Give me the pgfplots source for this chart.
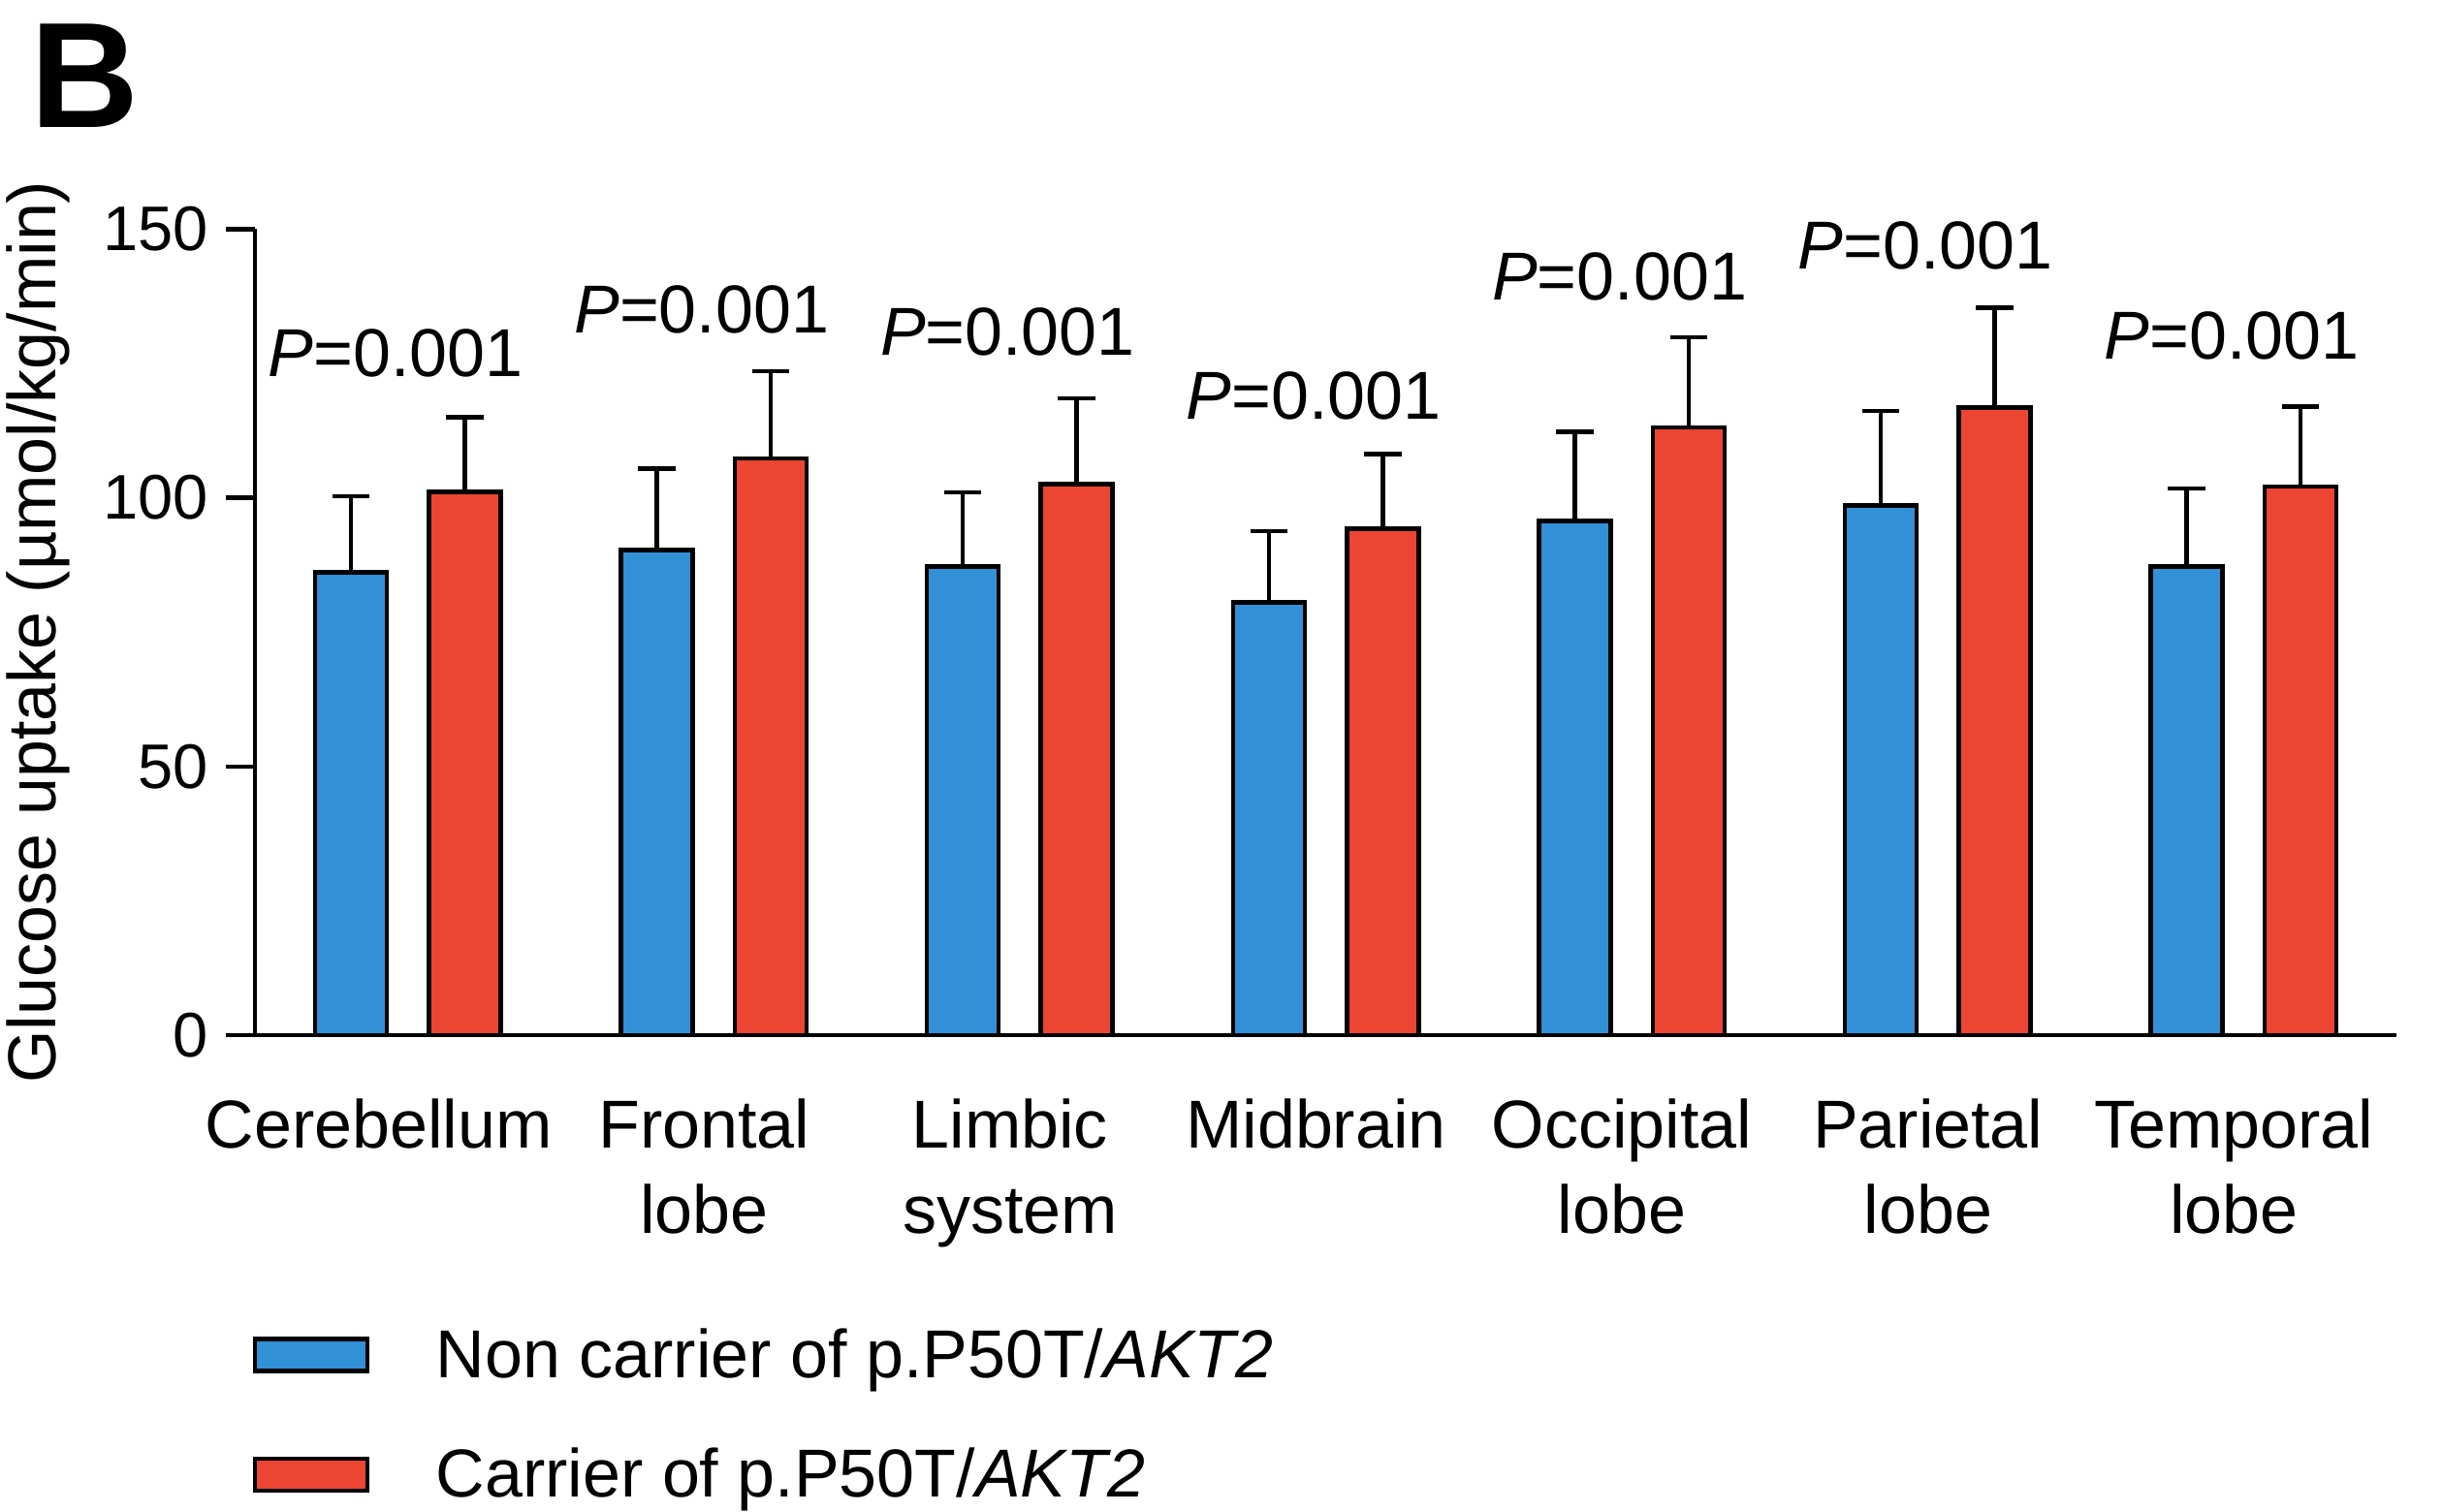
\documentclass[border=0pt]{standalone}
\usepackage{fontspec}
\setmainfont{Liberation Sans}
\usepackage{pgfplots}
\pgfplotsset{compat=1.18}
\definecolor{cblue}{RGB}{49,144,214}
\definecolor{cred}{RGB}{236,69,51}
\newcommand{\fs}{\fontsize{14}{17.6}\selectfont}
\pgfplotsset{
  legbox/.style={legend image code/.code={%
    \draw[##1,line width=0.9pt,draw=black,overlay] (0pt,-2.1pt) rectangle (23.2pt,4.5pt);
    \path[draw=none,fill=none] (0pt,0pt) rectangle (37.4pt,9.2pt);}},
}
\begin{document}
\begin{tikzpicture}
\begin{axis}[
  name=ax,
  scale only axis,
  width=441.9pt, height=166.3pt,
  xmin=-0.5, xmax=6.5, ymin=0, ymax=150,
  axis lines=left,
  axis line style={-, line width=0.9pt, black},
  xtick={0,1,2,3,4,5,6},
  xticklabels={{\kern-8pt Cerebellum},{Frontal\\lobe},{Limbic\\system},Midbrain,{Occipital\\lobe},{Parietal\\lobe},{Temporal\\lobe}},
  x tick style={draw=none},
  ytick={0,50,100,150},
  y tick style={line width=0.9pt, black},
  tick align=outside,
  major tick length=6pt,
  xticklabel style={font=\fs, align=center, anchor=north, inner sep=0pt, xshift=-2pt, yshift=-7pt},
  yticklabel style={font=\fontsize{13}{15}\selectfont},
  /pgf/number format/assume math mode=true,
  ylabel={Glucose uptake (µmol/kg/min)},
  ylabel style={font=\fs, at={(axis description cs:-0.1009,0.5)}, anchor=center},
  ybar,
  bar width=14.8pt,
  clip=false,
  legend style={at={(axis description cs:0,0)}, anchor=north west, yshift=-58pt,
    draw=none, fill=none, inner sep=0pt, outer sep=0pt, row sep=9pt, font=\fs,
    nodes={inner sep=0pt, text height=10pt, text depth=3pt}},
  legend cell align=left,
  error bars/y dir=plus,
  error bars/y explicit,
  error bars/error bar style={line width=0.9pt, black},
  error bars/error mark options={rotate=90, mark size=3.85pt, line width=0.9pt, black},
]
\addplot[legbox, bar shift=-11.75pt, fill=cblue, draw=black, line width=0.9pt]
  coordinates {(0,86.1) +- (0,14.2) (1,90.3) +- (0,15.1) (2,87.2) +- (0,13.8)
               (3,80.5) +- (0,13.3) (4,95.7) +- (0,16.6) (5,98.6) +- (0,17.6)
               (6,87.2) +- (0,14.5)};
\addlegendentry{Non carrier of p.P50T/\textit{AKT2}}
\addplot[legbox, bar shift=11.75pt, fill=cred, draw=black, line width=0.9pt]
  coordinates {(0,101.1) +- (0,13.9) (1,107.3) +- (0,16.3) (2,102.5) +- (0,16.0)
               (3,94.2) +- (0,13.9) (4,113.1) +- (0,16.8) (5,116.8) +- (0,18.6)
               (6,102.1) +- (0,14.9)};
\addlegendentry{Carrier of p.P50T/\textit{AKT2}}
\node[anchor=base, font=\fs, xshift=-2.5pt] at (axis cs:0,122.5) {\textit{P}=0.001};
\node[anchor=base, font=\fs, xshift=-2.5pt] at (axis cs:1,130.7) {\textit{P}=0.001};
\node[anchor=base, font=\fs, xshift=-2.5pt] at (axis cs:2,126.6) {\textit{P}=0.001};
\node[anchor=base, font=\fs, xshift=-2.5pt] at (axis cs:3,114.7) {\textit{P}=0.001};
\node[anchor=base, font=\fs, xshift=-2.5pt] at (axis cs:4,136.9) {\textit{P}=0.001};
\node[anchor=base, font=\fs, xshift=-2.5pt] at (axis cs:5,142.6) {\textit{P}=0.001};
\node[anchor=base, font=\fs, xshift=-2.5pt] at (axis cs:6,125.8) {\textit{P}=0.001};
\end{axis}
\node[anchor=north west, inner sep=0pt, font=\fontsize{31}{34}\selectfont\bfseries]
  at ([xshift=-46.5pt, yshift=208.8pt]ax.south west) {B};
\pgfresetboundingbox
\path ([xshift=-52.56pt, yshift=-98.22pt]ax.south west) rectangle ++(504pt,311.8pt);
\end{tikzpicture}
\end{document}
